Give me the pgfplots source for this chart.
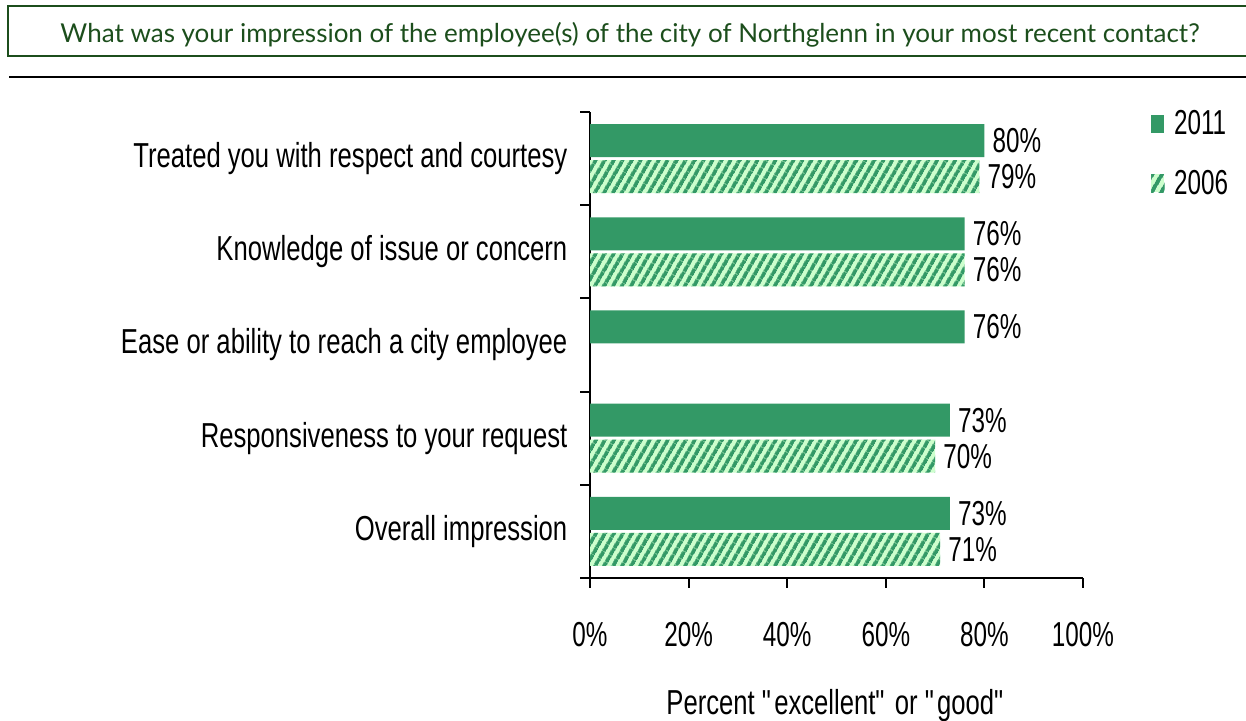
\documentclass[border=0pt]{standalone}
\usepackage{pgfplots}
\pgfplotsset{compat=1.18}
\usepackage{fontspec}
\usetikzlibrary{patterns.meta}
\setmainfont{Liberation Sans}[FakeStretch=0.74]
\newfontfamily\numfont{Liberation Sans}[FakeStretch=0.7]
\newfontfamily\titlefont{Lato}
\definecolor{sgreen}{RGB}{51,153,102}
\definecolor{lgreen}{RGB}{204,255,204}
\definecolor{tgreen}{RGB}{28,78,28}
\newcommand{\lblfont}{\fontsize{26}{30}\selectfont}
\newcommand{\nfont}{\numfont\fontsize{26}{30}\selectfont}
\begin{document}
\begin{tikzpicture}
\useasboundingbox (0,0) rectangle (934.5pt,540.75pt);
% title box
\draw[tgreen, line width=1.5pt] (945pt,536.25pt) -- (6pt,536.25pt) -- (6pt,498.75pt) -- (945pt,498.75pt);
\node[anchor=base, text=tgreen, inner sep=0pt, font=\titlefont\fontsize{19.5}{22}\selectfont] at (472.5pt,508.5pt)
  {What was your impression of the employee(s) of the city of Northglenn in your most recent contact?};
\draw[black, line width=1.5pt] (6.75pt,483pt) -- (945pt,483pt);
\begin{axis}[
  at={(442.5pt,107.25pt)}, anchor=south west,
  scale only axis, width=369.75pt, height=349.5pt,
  xbar, bar width=24.75pt,
  xmin=0, xmax=100, ymin=-0.5, ymax=4.5,
  axis lines=left, axis line style={-, line width=1.5pt},
  xtick={0,20,40,60,80,100},
  xticklabel={\pgfmathprintnumber[assume math mode=true]{\tick}\%},
  ytick={0,1,2,3,4},
  yticklabels={Overall impression, Responsiveness to your request, Ease or ability to reach a city employee, Knowledge of issue or concern, Treated you with respect and courtesy},
  minor ytick={-0.5,0.5,1.5,2.5,3.5,4.5},
  tick align=outside,
  major tick length=7.5pt, minor tick length=7.5pt,
  major y tick style={draw=none},
  every tick/.style={black, line width=1.5pt},
  minor y tick style={black, line width=1.5pt},
  yticklabel style={font=\lblfont, xshift=-6pt},
  xticklabel style={font=\nfont, yshift=-22.5pt},
  xlabel={Percent \textquotedbl excellent\textquotedbl{} or \textquotedbl good\textquotedbl},
  every axis x label/.style={at={(axis description cs:0.5,0)}, anchor=center, yshift=-96pt, font=\lblfont},
  nodes near coords={\pgfmathprintnumber[assume math mode=true]{\pgfplotspointmeta}\%},
  nodes near coords align=horizontal,
  every node near coord/.append style={font=\nfont, black, inner sep=0pt, xshift=6pt},
  legend style={at={(axis description cs:1.13,1.015)}, anchor=north west, draw=none, fill=none, font=\nfont, row sep=21pt},
  legend cell align=left,
]
\addplot[draw=none, fill=sgreen, bar shift=13.5pt,
  legend image code/.code={\fill[sgreen] (0pt,-6.75pt) rectangle (9.75pt,6.75pt); \path (15pt,0pt);}]
  coordinates {(73,0) (73,1) (76,2) (76,3) (80,4)};
\addlegendentry{2011}
\addplot[draw=none, fill=lgreen, bar shift=-13.5pt,
  postaction={pattern={Lines[angle=60,distance=5.85pt,line width=2.9pt]}, pattern color=sgreen},
  legend image code/.code={\fill[lgreen] (0pt,-6.75pt) rectangle (9.75pt,6.75pt);
    \fill[pattern={Lines[angle=60,distance=5.85pt,line width=2.9pt]}, pattern color=sgreen] (0pt,-6.75pt) rectangle (9.75pt,6.75pt); \path (15pt,0pt);}]
  coordinates {(71,0) (70,1) (76,3) (79,4)};
\addlegendentry{2006}
\end{axis}
\end{tikzpicture}
\end{document}
